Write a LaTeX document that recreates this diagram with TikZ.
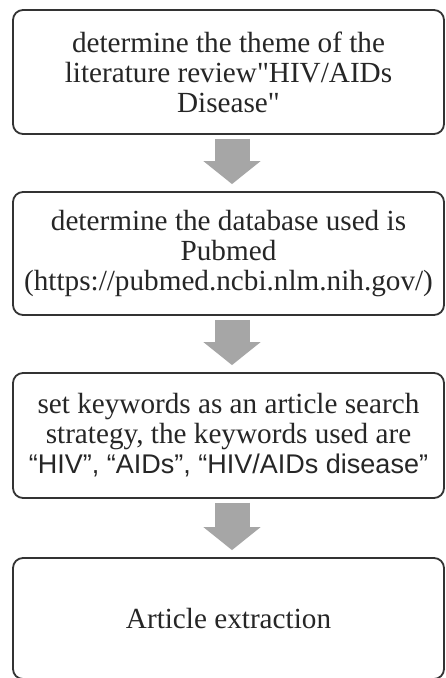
\documentclass[tikz,border=0pt]{standalone}
\usepackage{fontspec}
\newfontfamily\boxserif{Liberation Serif}
\newfontfamily\kwsans{Liberation Sans}
\usepackage{tikz}
\usetikzlibrary{arrows.meta}
\usetikzlibrary{calc}

\begin{document}
\begin{tikzpicture}[x=0.5pt, y=-0.5pt,
  stagebox/.style={draw=black!80, line width=0.9pt, rounded corners=5pt, fill=white,
    minimum width=215.5pt, align=center, inner sep=0pt, text=black!85,
    font=\boxserif\fontsize{14.6}{15}\selectfont},
  flowarrow/.style={draw=black!35, line width=17.5pt,
    -{Triangle[width=28pt, length=11.5pt]}, shorten <=2pt, shorten >=3.5pt}]
\useasboundingbox (0,0) rectangle (445,678);
\fill[white] (0,0) rectangle (445,678);
\node[stagebox, minimum height=62pt] (theme) at (228.5,72) {determine the theme of the\\literature review"HIV/AIDs\\Disease"};
\node[stagebox, minimum height=61.5pt] (dbase) at (228.5,253.5) {determine the database used is\\Pubmed\\(https://pubmed.ncbi.nlm.nih.gov/)};
\node[stagebox, minimum height=62.5pt] (kwords) at (228.5,435.5) {set keywords as an article search\\strategy, the keywords used are\\{\kwsans\fontsize{13.5}{15}\selectfont “HIV”, “AIDs”, “HIV/AIDs disease”}};
\node[stagebox, minimum height=60.5pt] (extract) at (228.5,618.5) {Article extraction};
\draw[flowarrow] ($(theme.south)+(3.5,0)$) -- ($(dbase.north)+(3.5,0)$);
\draw[flowarrow] ($(dbase.south)+(3.5,0)$) -- ($(kwords.north)+(3.5,0)$);
\draw[flowarrow] ($(kwords.south)+(3.5,0)$) -- ($(extract.north)+(3.5,0)$);
\end{tikzpicture}
\end{document}
